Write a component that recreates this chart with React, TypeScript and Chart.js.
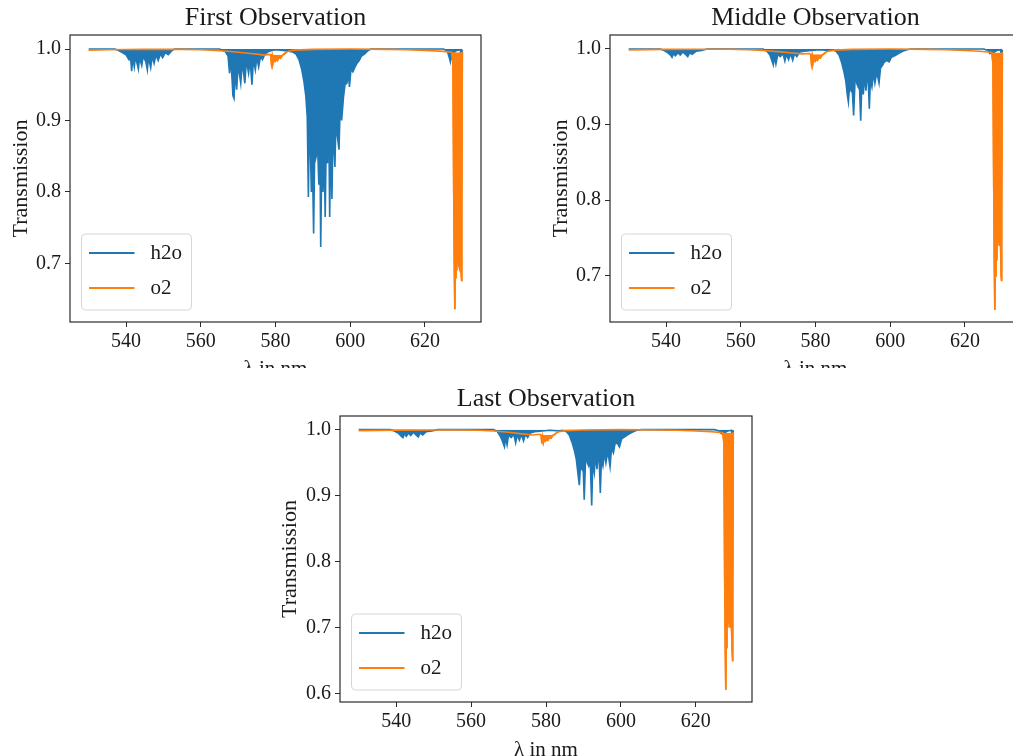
import React, { useEffect, useRef } from 'react';
import { Chart, registerables } from 'chart.js';

Chart.register(...registerables);

type Pt = [number, number];

const seriesLabels = ['h2o', 'o2'];
const seriesColors = ['#1f77b4', '#ff7f0e'];
const titles = ['First Observation', 'Middle Observation', 'Last Observation'];
const xLabel = 'λ in nm';
const yLabel = 'Transmission';
const xTicks = [540, 560, 580, 600, 620];
const yTicksTop = [0.7, 0.8, 0.9, 1.0];
const yTicksLast = [0.6, 0.7, 0.8, 0.9, 1.0];
const xRange: [number, number] = [525, 635];
const yRangeFirst: [number, number] = [0.618, 1.0196];
const yRangeMiddle: [number, number] = [0.639, 1.0185];
const yRangeLast: [number, number] = [0.5874, 1.0207];
const o2BandRanges: [number, number][] = [[578.6, 583.0], [627.2, 630.0]];

const h2oFirst: Pt[] = [
  [530, 1.0], [537, 1.0], [538, 0.998], [539, 0.995], [540, 0.992], [540.8, 0.985], [541.2, 0.99], [541.5, 0.969],
  [541.8, 0.988], [542.2, 0.975], [542.5, 0.989], [543.0, 0.979], [543.3, 0.972], [543.6, 0.988], [544.2, 0.977],
  [544.6, 0.99], [545.3, 0.982], [545.7, 0.971], [546.0, 0.988], [546.6, 0.974], [547.0, 0.99], [547.5, 0.98],
  [548.0, 0.992], [548.6, 0.984], [549.2, 0.993], [549.8, 0.988], [550.5, 0.995], [551.3, 0.992], [552.3, 0.998], [553, 1.0],
  [565, 1.0], [566.5, 0.997], [567.3, 0.99], [567.7, 0.966], [568.1, 0.985], [568.6, 0.935], [568.9, 0.931], [569.2, 0.97],
  [569.6, 0.943], [570.0, 0.978], [570.7, 0.952], [571.1, 0.982], [571.8, 0.952], [572.2, 0.984], [572.8, 0.966],
  [573.2, 0.985], [573.7, 0.95], [574.1, 0.986], [574.6, 0.971], [575.0, 0.988], [575.5, 0.975], [576.0, 0.99],
  [576.5, 0.985], [577.2, 0.993], [578.0, 0.996], [579.0, 0.998], [580.0, 0.999], [582.0, 0.998], [583.5, 0.997],
  [584.5, 0.996], [585.5, 0.993], [586.3, 0.985], [587.0, 0.972], [587.6, 0.955], [588.1, 0.935], [588.5, 0.905],
  [588.8, 0.793], [589.0, 0.88], [589.3, 0.87], [589.6, 0.8], [589.8, 0.87], [590.2, 0.742], [590.5, 0.86], [590.7, 0.935],
  [590.9, 0.85], [591.3, 0.86], [591.6, 0.81], [591.9, 0.86], [592.1, 0.723], [592.4, 0.85], [592.7, 0.8], [593.0, 0.86],
  [593.3, 0.765], [593.6, 0.88], [593.9, 0.84], [594.2, 0.93], [594.5, 0.765], [594.8, 0.88], [595.1, 0.79], [595.4, 0.89],
  [595.9, 0.835], [596.2, 0.905], [596.5, 0.88], [597.0, 0.859], [597.3, 0.92], [597.7, 0.9], [598.2, 0.933], [598.6, 0.95],
  [599.1, 0.952], [599.5, 0.965], [599.8, 0.947], [600.2, 0.972], [600.7, 0.968], [601.3, 0.975], [601.8, 0.98],
  [602.4, 0.984], [603.0, 0.99], [603.8, 0.993], [604.6, 0.997], [605.5, 1.0],
  [625, 1.0], [626.0, 0.997], [626.4, 0.99], [626.8, 0.982], [627.1, 0.992], [627.4, 0.985], [627.7, 0.995],
  [628.5, 0.998], [629.5, 0.999], [629.85, 0.95], [630, 0.999],
];

const o2First: Pt[] = [
  [530, 0.9985], [535, 0.999], [540, 0.9993], [545, 0.9995], [550, 0.9995], [555, 0.9995], [560, 0.999], [564, 0.998],
  [568, 0.9965], [572, 0.9945], [575, 0.9928], [577, 0.9915], [578.3, 0.9925], [578.7, 0.992], [578.9, 0.981],
  [579.1, 0.989], [579.3, 0.98], [579.6, 0.987], [579.9, 0.983], [580.2, 0.986], [580.5, 0.984], [580.9, 0.988],
  [581.3, 0.987], [581.8, 0.991], [582.3, 0.993], [582.8, 0.995], [583.5, 0.997], [585, 0.9985], [590, 0.9995],
  [600, 1.0], [610, 0.9995], [615, 0.999], [620, 0.998], [624, 0.997], [627.2, 0.9955], [627.5, 0.98], [627.7, 0.8],
  [627.85, 0.7], [628.0, 0.636], [628.1, 0.68], [628.3, 0.7], [628.5, 0.69], [628.7, 0.72], [628.85, 0.82], [629.0, 0.7],
  [629.2, 0.695], [629.45, 0.71], [629.7, 0.685], [629.8, 0.675], [629.9, 0.76], [630.0, 0.996],
];

const h2oMiddle: Pt[] = [
  [530, 1.0], [538.5, 1.0], [539.5, 0.998], [540.5, 0.995], [541.2, 0.992], [541.6, 0.989], [542.0, 0.994],
  [542.5, 0.991], [543.2, 0.995], [543.8, 0.992], [544.5, 0.996], [545.2, 0.993], [545.8, 0.99], [546.3, 0.995],
  [547.0, 0.993], [548, 0.997], [549.5, 0.998], [551, 1.0],
  [566, 1.0], [567, 0.997], [567.8, 0.992], [568.3, 0.985], [568.7, 0.979], [569.0, 0.99], [569.4, 0.98], [569.9, 0.993],
  [570.6, 0.99], [571.3, 0.994], [571.8, 0.984], [572.2, 0.993], [572.8, 0.986], [573.3, 0.994], [573.9, 0.985],
  [574.4, 0.994], [575.0, 0.99], [575.8, 0.996], [577, 0.997], [579, 0.998], [581, 0.999], [583.5, 0.998],
  [584.5, 0.999], [585.5, 0.997], [586.3, 0.992], [587.0, 0.982], [587.6, 0.97], [588.1, 0.958], [588.5, 0.94],
  [588.8, 0.93], [589.1, 0.95], [589.5, 0.945], [589.8, 0.95], [590.2, 0.912], [590.5, 0.948], [590.7, 0.985],
  [591.0, 0.955], [591.4, 0.95], [591.7, 0.96], [592.1, 0.905], [592.4, 0.955], [592.8, 0.94], [593.1, 0.965],
  [593.5, 0.945], [594.0, 0.975], [594.4, 0.921], [594.7, 0.96], [595.1, 0.95], [595.5, 0.968], [595.9, 0.955],
  [596.4, 0.97], [597.0, 0.955], [597.4, 0.975], [597.9, 0.978], [598.3, 0.982], [599.0, 0.985], [599.7, 0.983],
  [600.3, 0.989], [601.2, 0.991], [602.2, 0.994], [603.3, 0.997], [604.5, 0.999], [605.5, 1.0],
  [625, 1.0], [626.2, 0.998], [626.7, 0.994], [627.2, 0.996], [627.5, 0.995], [628.5, 0.998], [629.5, 0.999],
  [629.9, 0.985], [630, 0.999],
];

const o2Middle: Pt[] = [
  [530, 0.9988], [540, 0.9995], [550, 0.9996], [557, 0.9996], [562, 0.999], [566, 0.998], [570, 0.9965], [573, 0.995],
  [576.5, 0.9935], [578.3, 0.994], [578.7, 0.993], [578.9, 0.982], [579.1, 0.99], [579.3, 0.981], [579.6, 0.988],
  [579.9, 0.984], [580.2, 0.987], [580.5, 0.985], [580.9, 0.989], [581.3, 0.988], [581.8, 0.992], [582.3, 0.994],
  [582.8, 0.996], [583.5, 0.997], [585, 0.9985], [590, 0.9995], [600, 1.0], [610, 0.9995], [615, 0.999], [620, 0.998],
  [624, 0.997], [627.2, 0.9955], [627.5, 0.98], [627.7, 0.82], [627.85, 0.72], [628.0, 0.655], [628.1, 0.7],
  [628.3, 0.74], [628.5, 0.72], [628.7, 0.76], [628.85, 0.83], [629.0, 0.75], [629.2, 0.74], [629.45, 0.76],
  [629.7, 0.7], [629.75, 0.693], [629.9, 0.78], [630.0, 0.996],
];

const h2oLast: Pt[] = [
  [530, 1.0], [538.5, 1.0], [539.5, 0.998], [540.5, 0.995], [541.2, 0.991], [541.8, 0.988], [542.2, 0.994],
  [542.7, 0.99], [543.3, 0.995], [543.9, 0.991], [544.6, 0.996], [545.3, 0.992], [545.9, 0.989], [546.4, 0.995],
  [547.1, 0.992], [548, 0.997], [549.5, 0.998], [551, 1.0],
  [566, 1.0], [567, 0.997], [567.8, 0.99], [568.4, 0.982], [568.9, 0.974], [569.2, 0.988], [569.6, 0.977], [570.0, 0.992],
  [570.7, 0.988], [571.4, 0.993], [571.9, 0.98], [572.3, 0.992], [572.9, 0.984], [573.4, 0.993], [574.0, 0.983],
  [574.5, 0.993], [575.1, 0.988], [575.8, 0.995], [577, 0.997], [579, 0.998], [581, 0.999], [583.5, 0.998],
  [584.5, 0.999], [585.5, 0.997], [586.3, 0.991], [587.0, 0.98], [587.6, 0.968], [588.1, 0.955], [588.5, 0.935],
  [588.9, 0.916], [589.2, 0.945], [589.6, 0.94], [589.9, 0.948], [590.2, 0.894], [590.5, 0.945], [590.7, 0.98],
  [591.0, 0.95], [591.4, 0.945], [591.8, 0.955], [592.2, 0.885], [592.5, 0.95], [592.9, 0.935], [593.2, 0.962],
  [593.6, 0.94], [594.1, 0.972], [594.5, 0.904], [594.8, 0.955], [595.2, 0.945], [595.6, 0.965], [596.0, 0.95],
  [596.5, 0.968], [597.1, 0.944], [597.5, 0.972], [598.0, 0.965], [598.4, 0.978], [599.0, 0.98], [599.6, 0.974],
  [600.2, 0.986], [601.0, 0.989], [602.0, 0.993], [603.0, 0.996], [604.2, 0.999], [605.5, 1.0],
  [625, 1.0], [626.2, 0.998], [626.8, 0.994], [627.2, 0.996], [627.6, 0.995], [628.5, 0.998], [629.5, 0.999],
  [629.9, 0.982], [630, 0.999],
];

const o2Last: Pt[] = [
  [530, 0.9985], [540, 0.9993], [550, 0.9995], [557, 0.9995], [562, 0.999], [566, 0.998], [570, 0.996], [573, 0.994],
  [576.4, 0.992], [578.3, 0.993], [578.7, 0.992], [578.9, 0.979], [579.1, 0.988], [579.3, 0.98], [579.6, 0.986],
  [579.9, 0.983], [580.2, 0.986], [580.5, 0.984], [580.9, 0.988], [581.3, 0.987], [581.8, 0.991], [582.3, 0.993],
  [582.8, 0.995], [583.5, 0.997], [585, 0.9985], [590, 0.9995], [600, 1.0], [610, 0.9995], [615, 0.999], [620, 0.998],
  [624, 0.997], [627.2, 0.9955], [627.5, 0.98], [627.7, 0.78], [627.85, 0.68], [628.0, 0.606], [628.1, 0.67],
  [628.3, 0.71], [628.5, 0.7], [628.7, 0.72], [628.85, 0.8], [629.0, 0.71], [629.2, 0.7], [629.45, 0.72],
  [629.7, 0.665], [629.8, 0.649], [629.9, 0.74], [630.0, 0.996],
];

const FONT = "'Liberation Serif', 'Times New Roman', serif";
const TEXT = '#1a1a1a';

type Geom = { left: number; right: number; top: number; bottom: number; cw: number; ch: number };

const toXY = (arr: Pt[]) => arr.map(([x, y]) => ({ x, y }));

const boxPlugin = {
  id: 'mplBox',
  afterDraw(chart: any) {
    const { ctx, chartArea: a } = chart;
    ctx.save();
    const bw = 110, bh = 76;
    const bx = a.left + 11.5, by = a.bottom - 12 - bh;
    ctx.beginPath();
    if (ctx.roundRect) ctx.roundRect(bx, by, bw, bh, 4);
    else ctx.rect(bx, by, bw, bh);
    ctx.fillStyle = 'rgba(255,255,255,0.8)';
    ctx.fill();
    ctx.strokeStyle = '#d6d6d6';
    ctx.lineWidth = 1;
    ctx.stroke();
    seriesLabels.forEach((lab, i) => {
      const y = by + 19 + i * 35;
      ctx.beginPath();
      ctx.moveTo(bx + 7.5, y);
      ctx.lineTo(bx + 53, y);
      ctx.strokeStyle = seriesColors[i];
      ctx.lineWidth = 2;
      ctx.stroke();
      ctx.fillStyle = TEXT;
      ctx.font = `21px ${FONT}`;
      ctx.textBaseline = 'middle';
      ctx.textAlign = 'left';
      ctx.fillText(lab, bx + 69, y);
    });
    ctx.strokeStyle = '#2a2a2a';
    ctx.lineWidth = 1.2;
    ctx.strokeRect(a.left, a.top, a.right - a.left, a.bottom - a.top);
    ctx.restore();
  },
};

function Panel(props: {
  h2o: Pt[]; o2: Pt[]; title: string; yRange: [number, number]; yTicks: number[]; geom: Geom;
  pos: { left: number; top: number; width: number; height: number };
}) {
  const ref = useRef<HTMLCanvasElement>(null);
  const { h2o, o2, title, yRange, yTicks, geom, pos } = props;
  useEffect(() => {
    const bands = o2BandRanges.map(([a, b]) => o2.filter((p) => p[0] >= a && p[0] <= b));
    const datasets: any[] = [
      {
        label: seriesLabels[1], data: toXY(o2), borderColor: seriesColors[1], borderWidth: 1.6, fill: false, order: 1,
      },
      ...bands.map((b) => ({
        label: seriesLabels[1], data: toXY(b), borderColor: seriesColors[1], borderWidth: 1.6, order: 2,
        fill: { target: { value: b[0][1] }, above: 'rgba(0,0,0,0)', below: seriesColors[1] },
      })),
      {
        label: seriesLabels[0], data: toXY(h2o), borderColor: seriesColors[0], borderWidth: 1.6, order: 3,
        fill: { target: { value: 1.0 }, above: 'rgba(0,0,0,0)', below: seriesColors[0] },
      },
    ];
    const chart = new Chart(ref.current as HTMLCanvasElement, {
      type: 'line',
      data: { datasets },
      options: {
        animation: false,
        responsive: false,
        devicePixelRatio: 1,
        layout: { padding: { left: 0, right: geom.cw - geom.right, top: 0, bottom: 0 } },
        elements: { point: { radius: 0 }, line: { tension: 0 } },
        plugins: {
          legend: { display: false },
          tooltip: { enabled: false },
          title: {
            display: true, text: title, fullSize: false, color: TEXT,
            font: { family: FONT, size: 26, weight: 'normal' },
            padding: { top: geom.top - 32.2, bottom: 1 },
          },
        },
        scales: {
          x: {
            type: 'linear', min: xRange[0], max: xRange[1],
            afterBuildTicks: (s: any) => { s.ticks = xTicks.map((v) => ({ value: v })); },
            afterFit: (s: any) => { s.height = geom.ch - geom.bottom; },
            ticks: { color: TEXT, font: { family: FONT, size: 20 }, padding: 3, maxRotation: 0, autoSkip: false, callback: (v: any) => String(v) },
            grid: { drawOnChartArea: false, drawTicks: true, tickLength: 5, color: '#2a2a2a', lineWidth: 1 },
            border: { display: false },
            title: { display: true, text: xLabel, color: TEXT, font: { family: FONT, size: 21 }, padding: { top: 0, bottom: 18 } },
          },
          y: {
            type: 'linear', min: yRange[0], max: yRange[1],
            afterBuildTicks: (s: any) => { s.ticks = yTicks.map((v) => ({ value: v })); },
            afterFit: (s: any) => { s.width = geom.left; },
            ticks: { color: TEXT, font: { family: FONT, size: 20 }, padding: 4, autoSkip: false, callback: (v: any) => Number(v).toFixed(1) },
            grid: { drawOnChartArea: false, drawTicks: true, tickLength: 5, color: '#2a2a2a', lineWidth: 1 },
            border: { display: false },
            title: { display: true, text: yLabel, color: TEXT, font: { family: FONT, size: 22 }, padding: { top: 8.5, bottom: 0 } },
          },
        },
      } as any,
      plugins: [boxPlugin],
    });
    return () => chart.destroy();
  }, []);
  return (
    <div style={{ position: 'absolute', overflow: 'hidden', left: pos.left, top: pos.top, width: pos.width, height: pos.height }}>
      <canvas ref={ref} width={geom.cw} height={geom.ch} style={{ display: 'block', width: geom.cw, height: geom.ch }} />
    </div>
  );
}

const geomTop: Geom = { left: 70, right: 481, top: 35, bottom: 322, cw: 500, ch: 400 };
const geomLast: Geom = { left: 71, right: 483, top: 35, bottom: 321, cw: 500, ch: 400 };

export default function App() {
  return (
    <div style={{ position: 'fixed', left: 0, top: 0, width: 1013, height: 756, background: '#fff', overflow: 'hidden' }}>
      <Panel h2o={h2oFirst} o2={o2First} title={titles[0]} yRange={yRangeFirst} yTicks={yTicksTop} geom={geomTop}
        pos={{ left: 0, top: 0, width: 500, height: 368 }} />
      <Panel h2o={h2oMiddle} o2={o2Middle} title={titles[1]} yRange={yRangeMiddle} yTicks={yTicksTop} geom={geomTop}
        pos={{ left: 540, top: 0, width: 473, height: 368 }} />
      <Panel h2o={h2oLast} o2={o2Last} title={titles[2]} yRange={yRangeLast} yTicks={yTicksLast} geom={geomLast}
        pos={{ left: 269, top: 381, width: 500, height: 375 }} />
    </div>
  );
}
